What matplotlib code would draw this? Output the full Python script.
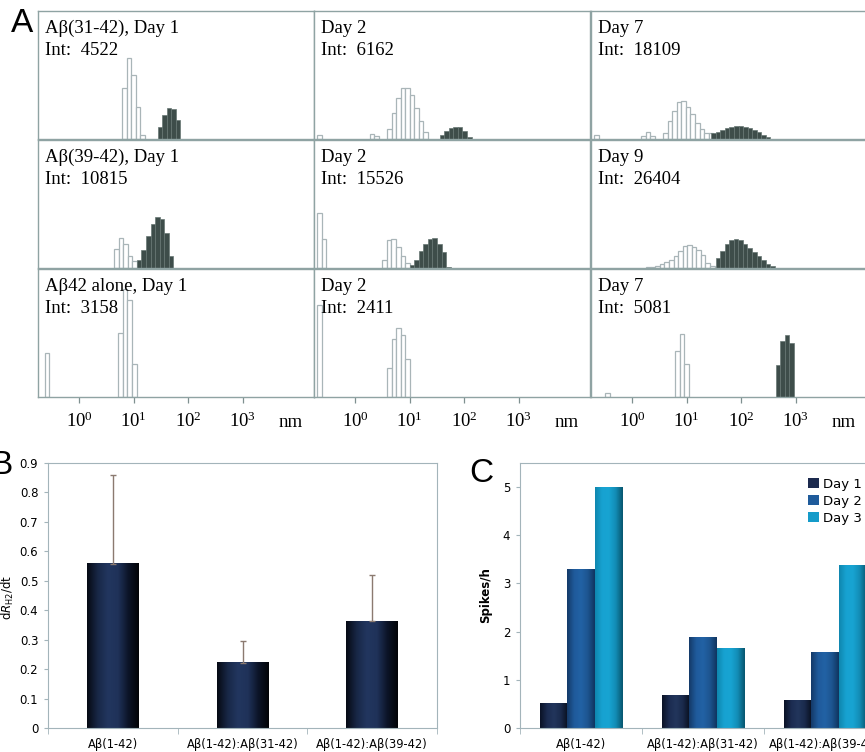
import numpy as np
import matplotlib.pyplot as plt
from matplotlib.colors import LinearSegmentedColormap
from matplotlib.ticker import FixedLocator, LogLocator, NullFormatter, LogFormatterSciNotation

plt.rcParams['font.family'] = 'DejaVu Sans'

W, H = 865, 752

# ---------------- panel A: size distributions ----------------
# each group: (log10 of left edge of first bin in nm, bin heights as fraction of panel height)
BIN_LOG = 1 / 12

a_titles = [["Aβ(31-42), Day 1", "Day 2", "Day 7"],
            ["Aβ(39-42), Day 1", "Day 2", "Day 9"],
            ["Aβ42 alone, Day 1", "Day 2", "Day 7"]]
a_int = [[4522, 6162, 18109],
         [10815, 15526, 26404],
         [3158, 2411, 5081]]

# Aβ(31-42)
p31_d1_open = [(0.79, [0.40, 0.63, 0.50, 0.25, 0.03])]
p31_d1_dark = [(1.44, [0.096, 0.19, 0.245, 0.234, 0.148])]
p31_d2_open = [(-0.69, [0.03]), (0.27, [0.036, 0.024]),
               (0.585, [0.076, 0.20, 0.32, 0.40, 0.40, 0.34, 0.24, 0.14, 0.057])]
p31_d2_dark = [(1.55, [0.031, 0.063, 0.086, 0.096, 0.091, 0.065, 0.018])]
p31_d7_open = [(-0.69, [0.03]), (0.17, [0.026, 0.052, 0.023]),
               (0.57, [0.047, 0.143, 0.221, 0.287, 0.30, 0.252, 0.195, 0.125, 0.078, 0.044, 0.044])]
p31_d7_dark = [(1.45, [0.044, 0.057, 0.073, 0.086, 0.094, 0.099, 0.099, 0.094, 0.086, 0.073, 0.052, 0.031, 0.013])]

# Aβ(39-42)
p39_d1_open = [(0.64, [0.15, 0.234, 0.19, 0.097, 0.052])]
p39_d1_dark = [(1.06, [0.06, 0.139, 0.249, 0.346, 0.40, 0.386, 0.275, 0.097])]
p39_d2_open = [(-0.69, [0.43, 0.23]),
               (0.50, [0.066, 0.215, 0.228, 0.165, 0.092, 0.04])]
p39_d2_dark = [(1.0, [0.026, 0.066, 0.129, 0.187, 0.228, 0.234, 0.189, 0.123, 0.008])]
p39_d9_open = [(0.26, [0.005, 0.01, 0.018, 0.034, 0.047, 0.066, 0.092, 0.131, 0.171, 0.176,
                       0.165, 0.144, 0.105, 0.039, 0.013])]
p39_d9_dark = [(1.53, [0.079, 0.131, 0.184, 0.215, 0.223, 0.215, 0.189, 0.157, 0.123, 0.092,
                       0.066, 0.034, 0.018])]

# Aβ42 alone
p42_d1_open = [(-0.63, [0.344]), (0.72, [0.50, 0.84, 0.755, 0.26])]
p42_d1_dark = []
p42_d2_open = [(-0.69, [0.716]), (0.585, [0.229, 0.456, 0.54, 0.487, 0.30])]
p42_d2_dark = []
p42_d7_open = [(-0.49, [0.031]), (0.79, [0.357, 0.495, 0.258])]
p42_d7_dark = [(2.63, [0.25, 0.44, 0.487, 0.42])]

a_open = [[p31_d1_open, p31_d2_open, p31_d7_open],
          [p39_d1_open, p39_d2_open, p39_d9_open],
          [p42_d1_open, p42_d2_open, p42_d7_open]]
a_dark = [[p31_d1_dark, p31_d2_dark, p31_d7_dark],
          [p39_d1_dark, p39_d2_dark, p39_d9_dark],
          [p42_d1_dark, p42_d2_dark, p42_d7_dark]]

# ---------------- panel B ----------------
b_labels = ["Aβ(1-42)", "Aβ(1-42):Aβ(31-42)", "Aβ(1-42):Aβ(39-42)"]
b_rate = [0.557, 0.222, 0.362]
b_err = [0.303, 0.075, 0.158]

# ---------------- panel C ----------------
c_days = ["Day 1", "Day 2", "Day 3"]
c_day1 = [0.50, 0.68, 0.575]
c_day2 = [3.30, 1.87, 1.57]
c_day3 = [5.00, 1.64, 3.38]


def fpos(left, top, width, height):
    return [left / W, 1 - (top + height) / H, width / W, height / H]


def shade(ax, patches, cmap):
    grad = np.linspace(0, 1, 64).reshape(1, -1)
    for p in patches:
        x0, y0 = p.get_x(), p.get_y()
        ax.imshow(grad, cmap=cmap, aspect='auto', interpolation='bicubic',
                  extent=(x0, x0 + p.get_width(), y0, y0 + p.get_height()),
                  zorder=p.get_zorder() + 0.1)


def draw_groups(ax, groups, **kw):
    for start, heights in groups:
        lefts = 10 ** (start + BIN_LOG * np.arange(len(heights)))
        widths = lefts * (10 ** BIN_LOG - 1)
        ax.bar(lefts, heights, width=widths, align='edge', **kw)


fig = plt.figure(figsize=(W / 100, H / 100), dpi=100)

col_left = [38, 314, 591]
row_top = [11, 140, 269]
edge = '#8fa3a3'
serif = 'Liberation Serif'

for r in range(3):
    for c in range(3):
        ax = fig.add_axes(fpos(col_left[c], row_top[r], 276, 128))
        ax.set_xscale('log')
        draw_groups(ax, a_open[r][c], facecolor='white', edgecolor='#a9b5b8', linewidth=0.9)
        draw_groups(ax, a_dark[r][c], facecolor='#3e4d4a', edgecolor='#667673', linewidth=0.5)
        ax.set_xlim(10 ** -0.75, 10 ** 4.3)
        ax.set_ylim(0, 1)
        ax.set_yticks([])
        for s in ax.spines.values():
            s.set_color(edge)
            s.set_linewidth(1.0)
        ax.text(0.025, 1 - 22 / 128, a_titles[r][c], transform=ax.transAxes,
                fontsize=13.5, family=serif, va='baseline')
        ax.text(0.025, 1 - 44 / 128, "Int:  %d" % a_int[r][c], transform=ax.transAxes,
                fontsize=13.5, family=serif, va='baseline')
        ax.xaxis.set_major_locator(FixedLocator([1, 10, 100, 1000]))
        ax.xaxis.set_minor_locator(LogLocator(base=10, subs=np.arange(2, 10)))
        ax.xaxis.set_minor_formatter(NullFormatter())
        if r == 2:
            ax.xaxis.set_major_formatter(LogFormatterSciNotation())
            ax.tick_params(axis='x', which='both', direction='out', color='#7f9090',
                           width=0.9, labelsize=13.5, labelfontfamily=serif, pad=6)
            ax.tick_params(axis='x', which='major', length=4.5)
            ax.tick_params(axis='x', which='minor', length=4)
            ax.annotate("nm", xy=(7400, 0), xycoords=('data', 'axes fraction'),
                        xytext=(0, -30 * 0.72), textcoords='offset points',
                        fontsize=13.5, family=serif, ha='center', va='baseline')
        else:
            ax.tick_params(axis='x', which='both', bottom=False, labelbottom=False)

fig.text(22 / W, 1 - 24 / H, "A", fontsize=24, family='Liberation Sans', ha='center', va='center')
fig.text(1 / W, 1 - 466 / H, "B", fontsize=24, family='Liberation Sans', ha='center', va='center')
fig.text(481 / W, 1 - 473 / H, "C", fontsize=24, family='Liberation Sans', ha='center', va='center')

frame = '#a3b4ba'

# ---- B
axb = fig.add_axes(fpos(48, 463, 389, 265))
x = np.arange(len(b_labels))
bars = axb.bar(x, b_rate, width=0.4, color='#1c2d52', zorder=2)
navy = LinearSegmentedColormap.from_list('navy', ['#060a14', '#182746', '#22365f', '#1f3259', '#0c1428', '#020408'])
shade(axb, bars, navy)
axb.errorbar(x, b_rate, yerr=[np.zeros(len(b_err)), b_err], fmt='none', ecolor='#8b7a70',
             elinewidth=1.0, capsize=2, capthick=1.0, zorder=3)
axb.set_xlim(-0.5, 2.5)
axb.set_ylim(0, 0.9)
axb.set_yticks(np.arange(0, 0.91, 0.1))
axb.set_yticklabels(['%g' % round(v, 1) for v in np.arange(0, 0.91, 0.1)])
axb.set_xticks(x)
axb.set_xticklabels(b_labels)
axb.set_xticks([-0.5, 0.5, 1.5, 2.5], minor=True)
axb.tick_params(axis='x', which='major', length=0, pad=7, labelsize=8.3)
axb.tick_params(axis='x', which='minor', length=4, color=frame)
axb.tick_params(axis='y', length=3, color=frame, labelsize=8.5, pad=4)
for s in axb.spines.values():
    s.set_color(frame)
fig.text(8 / W, 1 - 597 / H, r"d$\mathit{R}_{\mathdefault{H2}}$/dt", rotation=90,
         ha='center', va='center', fontsize=8.5)

# ---- C
axc = fig.add_axes(fpos(520, 463, 366, 265))
bw = 0.223
cmaps = [
    LinearSegmentedColormap.from_list('d1', ['#0a1226', '#1b2b50', '#22365c', '#1a2a4c', '#09101f']),
    LinearSegmentedColormap.from_list('d2', ['#143a68', '#1f5a9b', '#2262a5', '#1d5590', '#103560']),
    LinearSegmentedColormap.from_list('d3', ['#0f86ae', '#17a2d1', '#18a4d2', '#128cb5', '#08566e']),
]
solid = ['#1c2a4e', '#1f5b9b', '#159bc9']
for i, vals in enumerate([c_day1, c_day2, c_day3]):
    bc = axc.bar(x + (i - 1) * bw, vals, width=bw, color=solid[i], label=c_days[i], zorder=2)
    shade(axc, bc, cmaps[i])
axc.set_xlim(-0.5, 2.5)
axc.set_ylim(0, 5.5)
axc.set_yticks(range(6))
axc.set_xticks(x)
axc.set_xticklabels(b_labels)
axc.set_xticks([-0.5, 0.5, 1.5, 2.5], minor=True)
axc.tick_params(axis='x', which='major', length=0, pad=7, labelsize=8.3)
axc.tick_params(axis='x', which='minor', length=4, color=frame)
axc.tick_params(axis='y', length=3, color=frame, labelsize=8.5, pad=4)
for s in axc.spines.values():
    s.set_color(frame)
axc.set_ylabel("Spikes/h", fontsize=8.5, fontweight='bold', labelpad=8)
axc.legend(loc='upper left', bbox_to_anchor=(808 / W, 1 - 478 / H), bbox_transform=fig.transFigure,
           frameon=False, fontsize=9.5, handlelength=0.8, handleheight=0.8, handletextpad=0.3,
           labelspacing=0.3, borderpad=0, borderaxespad=0)

fig.savefig("out.png", dpi=100)
